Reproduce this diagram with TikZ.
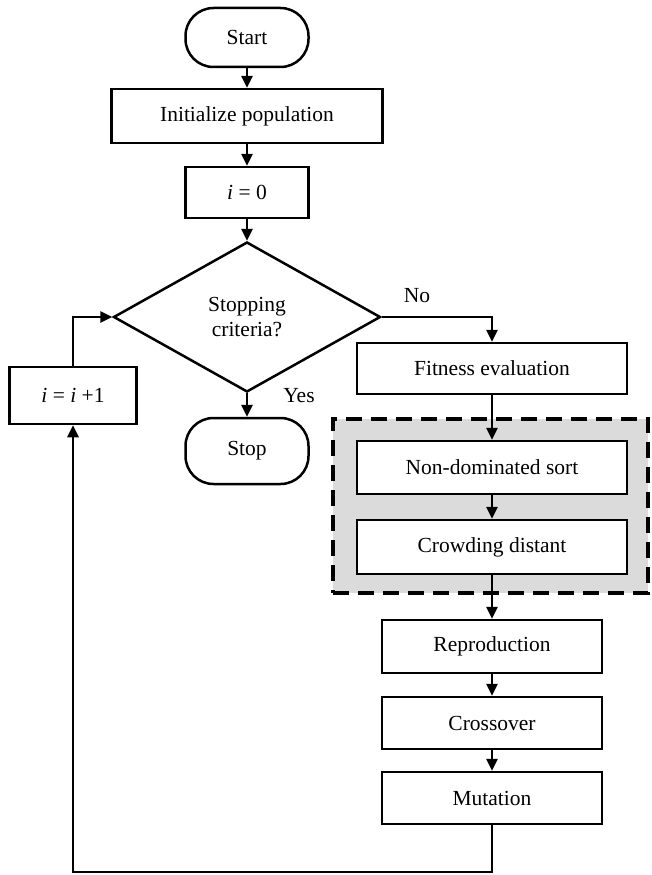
\documentclass[tikz,border=0pt]{standalone}
\usepackage{fontspec}
\setmainfont{Liberation Serif}
\usetikzlibrary{arrows.meta,shapes.geometric}
\begin{document}
\begin{tikzpicture}[x=1pt,y=-1pt,
  every node/.style={font=\fontsize{21.5}{25}\selectfont},
  base/.style={draw,line width=2.5pt,fill=white,inner sep=0pt,align=center},
  procbox/.style={base,rectangle,minimum height=#1},
  procbox/.default=52pt,
  termbox/.style={base,rectangle,rounded corners=28pt,minimum width=123pt},
  decbox/.style={base,diamond,minimum width=267pt,minimum height=150pt,aspect=1.78},
  flow/.style={line width=2.5pt,-{Triangle[length=12pt,width=11pt]}},
  grpbox/.style={draw,line width=3.5pt,dash pattern=on 16pt off 9pt,fill=black!14,inner sep=0pt,minimum width=315pt,minimum height=174pt},
  lbl/.style={inner sep=0pt}
]
\useasboundingbox (0,0) rectangle (652,875);
\node[grpbox] (grp) at (490.5,506) {};
\node[termbox,minimum height=59pt] (start) at (247,37.5) {Start};
\node[procbox=54pt,minimum width=271pt] (init) at (247,116) {Initialize population};
\node[procbox=51pt,minimum width=123pt] (i0) at (247,192.5) {\textit{i} = 0};
\node[decbox] (dec) at (247,317) {Stopping\\criteria?};
\node[termbox,minimum height=66pt] (stop) at (247,451) {Stop};
\node[procbox=57pt,minimum width=127pt] (inc) at (73,395.5) {\textit{i} = \textit{i} +1};
\node[procbox=51pt,minimum width=270pt] (fit) at (492,368.5) {Fitness evaluation};
\node[procbox=53pt,minimum width=270pt] (nd) at (492,467.5) {Non-dominated sort};
\node[procbox=54pt,minimum width=270pt] (cd) at (492,547) {Crowding distant};
\node[procbox=53pt,minimum width=220pt] (rep) at (492,646.5) {Reproduction};
\node[procbox=52pt,minimum width=220pt] (cro) at (492,723) {Crossover};
\node[procbox=52pt,minimum width=220pt] (mut) at (492,798) {Mutation};
\node[lbl] (yes) at (299,396) {Yes};
\node[lbl] (no) at (417,296) {No};
\coordinate (loopbl) at (73,872);
\draw[flow] (start) -- (init);
\draw[flow] (init) -- (i0);
\draw[flow] (i0) -- (dec.north);
\draw[flow] (dec.south) -- (stop);
\draw[flow] (dec.east) -| (fit.north);
\draw[flow] (fit) -- (nd);
\draw[flow] (nd) -- (cd);
\draw[flow] (cd) -- (rep);
\draw[flow] (rep) -- (cro);
\draw[flow] (cro) -- (mut);
\draw[flow] (mut.south) |- (loopbl) -- (inc.south);
\draw[flow] (inc.north) |- (dec.west);
\end{tikzpicture}
\end{document}
